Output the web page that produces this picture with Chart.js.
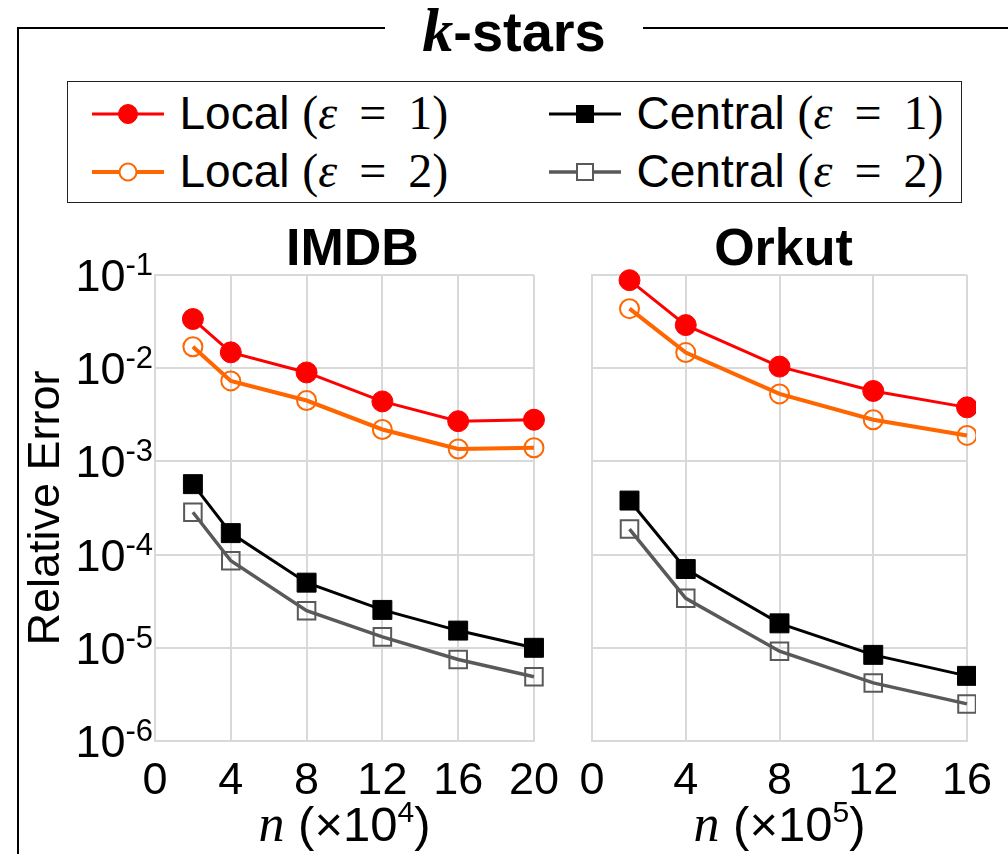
<!DOCTYPE html>
<html>
<head>
<meta charset="utf-8">
<script src="https://cdn.jsdelivr.net/npm/chart.js@4.4.1/dist/chart.umd.min.js"></script>
<style>
  html, body { margin: 0; padding: 0; background: #fff; }
  body { width: 1008px; height: 854px; overflow: hidden; position: relative; font-family: "Liberation Sans", Arial, sans-serif; color: #000; }
  #frame { position: absolute; left: 17px; top: 27px; width: 1100px; height: 1000px; border: 2px solid #000; }
  #title { position: absolute; left: 385px; width: 258px; top: 0; height: 60px; line-height: 60px; font-size: 56px; background: #fff; text-align: center; white-space: nowrap; }
  #title .k { font-family: "Liberation Serif", serif; font-style: italic; font-weight: bold; font-size: 62px; }
  #title .s { font-weight: bold; }
  #legend { position: absolute; left: 67px; top: 81px; width: 893px; height: 120px; border: 1.5px solid #222; }
  .item { position: absolute; width: 420px; height: 40px; }
  .item svg { position: absolute; left: 0; top: 0; }
  .item .lbl { position: absolute; left: 88px; top: -4px; font-size: 46px; line-height: 46px; white-space: nowrap; }
  .m { font-family: "Liberation Serif", serif; font-size: 48px; word-spacing: 10px; }
  canvas { position: absolute; }
</style>
</head>
<body>
<div id="frame"></div>
<div id="title"><span class="k">k</span><span class="s">-stars</span></div>
<div id="legend"></div>
<canvas id="imdb" width="553" height="644" style="left:20px;top:210px"></canvas>
<canvas id="orkut" width="443" height="644" style="left:565px;top:210px"></canvas>
<script>
const imdbN = [2, 4, 8, 12, 16, 20];
const orkutN = [1.6, 4, 8, 12, 16];

const seriesNames = ['Local', 'Central', 'Local', 'Central'];
const seriesEps = [1, 1, 2, 2];

const imdbLocal1 = [0.0337, 0.0148, 0.0090, 0.0044, 0.0027, 0.0028];
const imdbLocal2 = [0.0170, 0.0073, 0.0045, 0.0022, 0.00136, 0.0014];
const imdbCentral1 = [5.7e-4, 1.7e-4, 5.0e-5, 2.55e-5, 1.53e-5, 1.0e-5];
const imdbCentral2 = [2.85e-4, 8.6e-5, 2.5e-5, 1.31e-5, 7.5e-6, 4.9e-6];

const orkutLocal1 = [0.088, 0.029, 0.0104, 0.0057, 0.0038];
const orkutLocal2 = [0.0435, 0.0147, 0.0053, 0.0028, 0.0019];
const orkutCentral1 = [3.8e-4, 7.0e-5, 1.83e-5, 8.4e-6, 5.0e-6];
const orkutCentral2 = [1.88e-4, 3.4e-5, 9.2e-6, 4.2e-6, 2.5e-6];

const yTicks = [1e-6, 1e-5, 1e-4, 1e-3, 1e-2, 1e-1];

const FONT = '"Liberation Sans", Arial, sans-serif';

// order: Local1, Central1, Local2, Central2 (legend reads row by row)
const styles = [
  { color: '#ff0000', width: 3, shape: 'circle', r: 10.5, fill: '#ff0000', bw: 1 },
  { color: '#000000', width: 3, shape: 'rect', r: 13.4, fill: '#000000', bw: 1 },
  { color: '#ff6600', width: 4, shape: 'circle', r: 9.5, fill: 'rgba(0,0,0,0)', bw: 2 },
  { color: '#595959', width: 3.5, shape: 'rect', r: 12.4, fill: 'rgba(0,0,0,0)', bw: 2 },
];

function makeSets(xs, series, clip) {
  return series.map((vals, i) => ({
    label: seriesNames[i] + ' (ε = ' + seriesEps[i] + ')',
    data: xs.map((x, j) => ({ x: x, y: vals[j] })),
    borderColor: styles[i].color,
    borderWidth: styles[i].width,
    pointStyle: styles[i].shape,
    pointRadius: styles[i].r,
    pointHoverRadius: styles[i].r,
    pointBackgroundColor: styles[i].fill,
    pointBorderColor: styles[i].color,
    pointBorderWidth: styles[i].bw,
    tension: 0,
    clip: clip
  }));
}

// panel title, 10^k tick labels and the n (x10^k) axis title
const decor = {
  id: 'decor',
  afterDraw(chart, args, o) {
    const ctx = chart.ctx;
    const area = chart.chartArea;
    const cx = (area.left + area.right) / 2;
    ctx.save();
    ctx.fillStyle = '#000';
    ctx.textBaseline = 'alphabetic';

    ctx.font = 'bold 52px ' + FONT;
    ctx.textAlign = 'center';
    ctx.fillText(o.title, cx + o.titleDx, area.top - 10);

    if (o.yLabels) {
      const ys = chart.scales.y;
      yTicks.forEach(v => {
        const py = ys.getPixelForValue(v);
        const exp = String(Math.round(Math.log10(v)));
        ctx.font = '31px ' + FONT;
        const ew = ctx.measureText(exp).width;
        const xr = ys.right - 2;
        ctx.textAlign = 'left';
        ctx.fillText(exp, xr - ew, py);
        ctx.font = '45px ' + FONT;
        ctx.textAlign = 'right';
        ctx.fillText('10', xr - ew, py + 16);
      });
    }

    // x axis title: n (×10^e)
    const base = area.bottom + 100;
    ctx.textAlign = 'left';
    const fN = 'italic 52px "Liberation Serif", serif';
    const fM = '49px ' + FONT;
    const fS = '30px ' + FONT;
    ctx.font = fN; const wN = ctx.measureText('n').width;
    ctx.font = fM; const wA = ctx.measureText(' (×10').width; const wB = ctx.measureText(')').width;
    ctx.font = fS; const wS = ctx.measureText(o.xExp).width;
    let x = cx - (wN + wA + wS + wB) / 2;
    ctx.font = fN; ctx.fillText('n', x, base); x += wN;
    ctx.font = fM; ctx.fillText(' (×10', x, base); x += wA;
    ctx.font = fS; ctx.fillText(o.xExp, x, base - 19); x += wS;
    ctx.font = fM; ctx.fillText(')', x, base);
    ctx.restore();
  }
};

function makeChart(id, xs, series, xMax, opts) {
  const grid = { color: '#d9d9d9', lineWidth: 2, drawTicks: false };
  const border = { color: '#d9d9d9', width: 2 };
  return new Chart(document.getElementById(id), {
    type: 'line',
    data: { datasets: makeSets(xs, series, opts.clip) },
    options: {
      responsive: false,
      animation: false,
      events: [],
      layout: { padding: { top: 65, right: opts.padRight, bottom: 0, left: 0 } },
      plugins: {
        legend: { display: false },
        tooltip: { enabled: false },
        title: { display: false },
        decor: { title: opts.title, titleDx: opts.titleDx, yLabels: opts.yLabels, xExp: opts.xExp }
      },
      scales: {
        x: {
          type: 'linear', min: 0, max: xMax,
          ticks: { stepSize: 4, color: '#000', font: { family: FONT, size: 45 }, padding: 14, maxRotation: 0 },
          grid: grid, border: border,
          afterFit: s => { s.height = 113; }
        },
        y: {
          type: 'logarithmic', min: 1e-6, max: 1e-1,
          afterBuildTicks: s => { s.ticks = yTicks.map(v => ({ value: v })); },
          ticks: { display: false },
          grid: grid, border: border,
          title: { display: opts.yLabels, text: 'Relative Error', color: '#000', font: { family: FONT, size: 45 }, padding: { top: 0, bottom: 0 } },
          afterFit: s => { s.width = opts.yWidth; }
        }
      }
    },
    plugins: [decor]
  });
}

// the last x label (half width + tick padding) needs about 39px on the right
makeChart('imdb', imdbN, [imdbLocal1, imdbCentral1, imdbLocal2, imdbCentral2], 20,
  { title: 'IMDB', titleDx: 8, yLabels: true, xExp: '4', yWidth: 135, padRight: 39, clip: false });
makeChart('orkut', orkutN, [orkutLocal1, orkutCentral1, orkutLocal2, orkutCentral2], 16,
  { title: 'Orkut', titleDx: 4, yLabels: false, xExp: '5', yWidth: 27, padRight: 41, clip: { left: 20, top: 20, right: 9, bottom: 20 } });

// legend
const legend = document.getElementById('legend');
const cols = [25 - 1.5, 482 - 1.5];
const rows = [113 - 81 - 20, 171 - 81 - 20];
styles.forEach((st, i) => {
  const item = document.createElement('div');
  item.className = 'item';
  item.style.left = cols[i % 2] + 'px';
  item.style.top = rows[Math.floor(i / 2)] + 'px';
  const side = st.shape === 'rect' ? (i === 1 ? 17 : 16) : 0;
  const fill = st.bw > 1 ? '#fff' : st.fill;
  const marker = st.shape === 'circle'
    ? '<circle cx="36" cy="20" r="' + (st.r - 1) + '" fill="' + fill + '" stroke="' + st.color + '" stroke-width="' + st.bw + '"/>'
    : '<rect x="' + (36 - side / 2) + '" y="' + (20 - side / 2) + '" width="' + side + '" height="' + side + '" fill="' + fill + '" stroke="' + st.color + '" stroke-width="' + st.bw + '"/>';
  item.innerHTML = '<svg width="72" height="40"><line x1="0" y1="20" x2="72" y2="20" stroke="' + st.color + '" stroke-width="' + st.width + '"/>' +
    marker + '</svg>' +
    '<span class="lbl">' + seriesNames[i] + ' <span class="m">(<i>ε</i> = ' + seriesEps[i] + ')</span></span>';
  legend.appendChild(item);
});
</script>
</body>
</html>
